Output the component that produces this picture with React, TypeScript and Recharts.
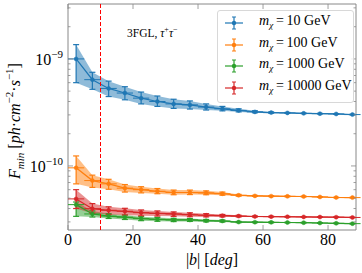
import React from 'react';
import { ComposedChart, Line, Area, Scatter, XAxis, YAxis, ErrorBar, ReferenceLine, ReferenceArea } from 'recharts';

// ---- data ----
const bins = [2.5, 7.5, 12.5, 17.5, 22.5, 27.5, 32.5, 37.5, 42.5, 47.5, 52.5, 57.5, 62.5, 67.5, 72.5, 77.5, 82.5, 87.5];
const binHalfWidth = 2.5;

const m10Val = [1.0e-9, 6.4e-10, 5.3e-10, 4.8e-10, 4.3e-10, 4.0e-10, 3.8e-10, 3.72e-10, 3.55e-10, 3.42e-10, 3.3e-10, 3.2e-10, 3.15e-10, 3.13e-10, 3.1e-10, 3.08e-10, 3.06e-10, 3.02e-10];
const m10Lo = [6.0e-10, 5.2e-10, 4.45e-10, 4.15e-10, 3.8e-10, 3.6e-10, 3.45e-10, 3.4e-10, 3.33e-10, 3.27e-10, 3.2e-10, 3.14e-10, 3.11e-10, 3.1e-10, 3.08e-10, 3.06e-10, 3.04e-10, 3.0e-10];
const m10Hi = [1.36e-9, 7.5e-10, 6.2e-10, 5.5e-10, 4.9e-10, 4.5e-10, 4.2e-10, 4.05e-10, 3.8e-10, 3.6e-10, 3.42e-10, 3.28e-10, 3.2e-10, 3.16e-10, 3.12e-10, 3.1e-10, 3.08e-10, 3.04e-10];

const m100Val = [9.6e-11, 7.3e-11, 6.8e-11, 6.2e-11, 6.0e-11, 5.8e-11, 5.65e-11, 5.65e-11, 5.6e-11, 5.5e-11, 5.32e-11, 5.25e-11, 5.22e-11, 5.2e-11, 5.18e-11, 5.13e-11, 5.07e-11, 5.06e-11];
const m100Lo = [6.8e-11, 6.3e-11, 6.05e-11, 5.7e-11, 5.6e-11, 5.5e-11, 5.38e-11, 5.4e-11, 5.38e-11, 5.33e-11, 5.22e-11, 5.19e-11, 5.17e-11, 5.15e-11, 5.14e-11, 5.1e-11, 5.04e-11, 5.03e-11];
const m100Hi = [1.24e-10, 8.2e-11, 7.5e-11, 6.7e-11, 6.4e-11, 6.15e-11, 5.95e-11, 5.95e-11, 5.85e-11, 5.7e-11, 5.42e-11, 5.31e-11, 5.27e-11, 5.25e-11, 5.22e-11, 5.16e-11, 5.1e-11, 5.09e-11];

const m1000Val = [4.35e-11, 3.56e-11, 3.4e-11, 3.32e-11, 3.22e-11, 3.17e-11, 3.13e-11, 3.13e-11, 3.08e-11, 3.06e-11, 2.99e-11, 2.98e-11, 2.97e-11, 2.96e-11, 2.95e-11, 2.93e-11, 2.91e-11, 2.89e-11];
const m1000Lo = [3.38e-11, 3.33e-11, 3.23e-11, 3.16e-11, 3.08e-11, 3.04e-11, 3.02e-11, 3.03e-11, 3.0e-11, 2.99e-11, 2.95e-11, 2.95e-11, 2.94e-11, 2.94e-11, 2.93e-11, 2.91e-11, 2.89e-11, 2.87e-11];
const m1000Hi = [4.6e-11, 3.8e-11, 3.58e-11, 3.48e-11, 3.36e-11, 3.3e-11, 3.24e-11, 3.22e-11, 3.16e-11, 3.13e-11, 3.03e-11, 3.01e-11, 3.0e-11, 2.98e-11, 2.97e-11, 2.95e-11, 2.93e-11, 2.91e-11];

const m10000Val = [4.92e-11, 3.99e-11, 3.85e-11, 3.77e-11, 3.66e-11, 3.6e-11, 3.56e-11, 3.5e-11, 3.46e-11, 3.43e-11, 3.4e-11, 3.37e-11, 3.36e-11, 3.35e-11, 3.34e-11, 3.33e-11, 3.32e-11, 3.3e-11];
const m10000Lo = [4.0e-11, 3.62e-11, 3.52e-11, 3.48e-11, 3.42e-11, 3.4e-11, 3.38e-11, 3.35e-11, 3.34e-11, 3.34e-11, 3.34e-11, 3.33e-11, 3.33e-11, 3.32e-11, 3.32e-11, 3.31e-11, 3.3e-11, 3.28e-11];
const m10000Hi = [6.0e-11, 4.45e-11, 4.15e-11, 4.02e-11, 3.88e-11, 3.8e-11, 3.72e-11, 3.65e-11, 3.58e-11, 3.52e-11, 3.46e-11, 3.41e-11, 3.39e-11, 3.38e-11, 3.36e-11, 3.35e-11, 3.34e-11, 3.32e-11];

const seriesDefs = [
  { key: 'a', label: '10 GeV', color: '#1f77b4', val: m10Val, lo: m10Lo, hi: m10Hi },
  { key: 'b', label: '100 GeV', color: '#ff7f0e', val: m100Val, lo: m100Lo, hi: m100Hi },
  { key: 'c', label: '1000 GeV', color: '#2ca02c', val: m1000Val, lo: m1000Lo, hi: m1000Hi },
  { key: 'd', label: '10000 GeV', color: '#d62728', val: m10000Val, lo: m10000Lo, hi: m10000Hi },
];

const xTicks = [0, 20, 40, 60, 80];
const yTicks = [
  3e-11, 4e-11, 5e-11, 6e-11, 7e-11, 8e-11, 9e-11,
  1e-10, 2e-10, 3e-10, 4e-10, 5e-10, 6e-10, 7e-10, 8e-10, 9e-10,
  1e-9, 2e-9, 3e-9,
];
const X_MAX = 88.6;
const Y_MIN = 2.52e-11;
const Y_MAX = 3.26e-9;
const cutLine = 10;

const data = bins.map((b, i) => {
  const row: any = { x: b, xe: binHalfWidth };
  seriesDefs.forEach((s) => {
    row[s.key] = s.val[i];
    row[s.key + 'band'] = [s.lo[i], s.hi[i]];
    row[s.key + 'err'] = [s.val[i] - s.lo[i], s.hi[i] - s.val[i]];
  });
  return row;
});

// ---- layout ----
const W = 362, H = 273;
const PL = 68, PR = 356, PT = 4, PB = 230;
const FRAME = '#888888';
const SERIF = '"Liberation Serif", "DejaVu Serif", serif';

function YTick(props: any) {
  const { y, payload } = props;
  const lv = Math.log10(payload.value);
  const e = Math.round(lv);
  const major = Math.abs(lv - e) < 1e-6;
  const len = major ? 5 : 2.5;
  return (
    <g>
      <line x1={PL} x2={PL + len} y1={y} y2={y} stroke={FRAME} strokeWidth={0.8} />
      <line x1={PR} x2={PR - len} y1={y} y2={y} stroke={FRAME} strokeWidth={0.8} />
      {major && (
        <text x={63} y={y + 6} textAnchor="end" fontFamily={SERIF} fill="#000">
          <tspan fontSize={16}>10</tspan>
          <tspan fontSize={11} dy={-7}>{'\u2212' + (-e)}</tspan>
        </text>
      )}
    </g>
  );
}

function XTick(props: any) {
  const { x, payload } = props;
  return (
    <g>
      <line x1={x} x2={x} y1={PB} y2={PB - 5} stroke={FRAME} strokeWidth={0.8} />
      <line x1={x} x2={x} y1={PT} y2={PT + 5} stroke={FRAME} strokeWidth={0.8} />
      <text x={x} y={PB + 15} textAnchor="middle" fontFamily={SERIF} fontSize={16} fill="#000">
        {payload.value}
      </text>
    </g>
  );
}

function YLabel() {
  return (
    <text transform={`translate(20,${(PT + PB) / 2 + 4}) rotate(-90)`} textAnchor="middle" fontFamily={SERIF} fontSize={16} fontStyle="italic" fill="#000">
      <tspan>F</tspan>
      <tspan fontSize={11} dy={4}>min</tspan>
      <tspan dy={-4} fontStyle="normal"> [</tspan>
      <tspan>ph</tspan>
      <tspan fontStyle="normal">·</tspan>
      <tspan>cm</tspan>
      <tspan fontSize={11} dy={-7} fontStyle="normal">−2</tspan>
      <tspan dy={7} fontStyle="normal">·</tspan>
      <tspan>s</tspan>
      <tspan fontSize={11} dy={-7} fontStyle="normal">−1</tspan>
      <tspan dy={7} fontStyle="normal">]</tspan>
    </text>
  );
}

function XLabel() {
  return (
    <text x={(PL + PR) / 2} y={265} textAnchor="middle" fontFamily={SERIF} fontSize={16} fill="#000">
      <tspan>|</tspan>
      <tspan fontStyle="italic">b</tspan>
      <tspan>| [</tspan>
      <tspan fontStyle="italic">deg</tspan>
      <tspan>]</tspan>
    </text>
  );
}

function LegendMarker({ color }: { color: string }) {
  return (
    <svg width={20} height={14} style={{ display: 'block' }}>
      <line x1={1} x2={19} y1={7} y2={7} stroke={color} strokeWidth={1.2} />
      <line x1={10} x2={10} y1={1} y2={13} stroke={color} strokeWidth={1.2} />
      <line x1={8} x2={12} y1={1} y2={1} stroke={color} strokeWidth={1} />
      <line x1={8} x2={12} y1={13} y2={13} stroke={color} strokeWidth={1} />
      <circle cx={10} cy={7} r={2.2} fill={color} />
    </svg>
  );
}

const makeDot = (color: string) => (p: any) => (
  <circle cx={p.cx} cy={p.cy} r={2} fill={color} stroke={color} strokeWidth={0.5} />
);

export default function App() {
  return (
    <div style={{ position: 'absolute', left: 0, top: 0, width: W, height: H, background: '#fff' }}>
      <ComposedChart width={W} height={H} data={data} margin={{ top: PT, right: W - PR, left: 0, bottom: 0 }}>
        <XAxis
          dataKey="x"
          type="number"
          domain={[0, X_MAX]}
          ticks={xTicks}
          allowDataOverflow
          height={H - PB}
          axisLine={false}
          tickLine={false}
          tick={<XTick />}
          interval={0}
        />
        <YAxis
          scale="log"
          type="number"
          domain={[Y_MIN, Y_MAX]}
          ticks={yTicks}
          allowDataOverflow
          width={PL}
          axisLine={false}
          tickLine={false}
          tick={<YTick />}
          interval={0}
        />
        <ReferenceArea x1={0} x2={X_MAX} y1={Y_MIN} y2={Y_MAX} fill="none" stroke={FRAME} strokeWidth={1} ifOverflow="visible" />
        {seriesDefs.map((s) => (
          <Area
            key={s.key + 'band'}
            dataKey={s.key + 'band'}
            type="linear"
            stroke="none"
            fill={s.color}
            fillOpacity={0.5}
            isAnimationActive={false}
            dot={false}
            activeDot={false}
          />
        ))}
        {seriesDefs.map((s) => (
          <Line
            key={s.key}
            dataKey={s.key}
            type="linear"
            stroke={s.color}
            strokeWidth={1.2}
            dot={false}
            activeDot={false}
            isAnimationActive={false}
          />
        ))}
        {seriesDefs.map((s) => (
          <Scatter
            key={s.key + 'pts'}
            dataKey={s.key}
            fill={s.color}
            shape={makeDot(s.color)}
            isAnimationActive={false}
          >
            <ErrorBar dataKey={s.key + 'err'} direction="y" stroke={s.color} strokeWidth={1.2} width={3} />
            <ErrorBar dataKey="xe" direction="x" stroke={s.color} strokeWidth={1} width={0} />
          </Scatter>
        ))}
        <ReferenceLine x={cutLine} stroke="#ff0000" strokeDasharray="4 2" strokeWidth={1} ifOverflow="visible" />
      </ComposedChart>
      <svg width={W} height={H} style={{ position: 'absolute', left: 0, top: 0, pointerEvents: 'none' }}>
        <YLabel />
        <XLabel />
        <text x={127} y={37} fontFamily={SERIF} fontSize={11.5} fill="#000">
          <tspan>3FGL, </tspan>
          <tspan fontStyle="italic">τ</tspan>
          <tspan fontSize={8} dy={-5}>+</tspan>
          <tspan fontStyle="italic" dy={5}>τ</tspan>
          <tspan fontSize={8} dy={-5}>−</tspan>
        </text>
      </svg>
      <div
        style={{
          position: 'absolute',
          left: 217,
          top: 10,
          width: 135,
          height: 91,
          border: '1px solid #d8d8d8',
          borderRadius: 3,
          background: 'rgba(255,255,255,0.85)',
          fontFamily: SERIF,
          fontSize: 14,
          color: '#000',
        }}
      >
        {seriesDefs.map((s, i) => (
          <div key={s.key} style={{ position: 'absolute', left: 6, top: 5 + i * 21.6, height: 14, display: 'flex', alignItems: 'center', whiteSpace: 'nowrap' }}>
            <LegendMarker color={s.color} />
            <span style={{ marginLeft: 15, lineHeight: '14px' }}>
              <i>m</i>
              <sub style={{ fontSize: 9, fontStyle: 'italic', verticalAlign: '-3px' }}>χ</sub>
              {'\u2009=\u2009'}
              {s.label}
            </span>
          </div>
        ))}
      </div>
    </div>
  );
}
